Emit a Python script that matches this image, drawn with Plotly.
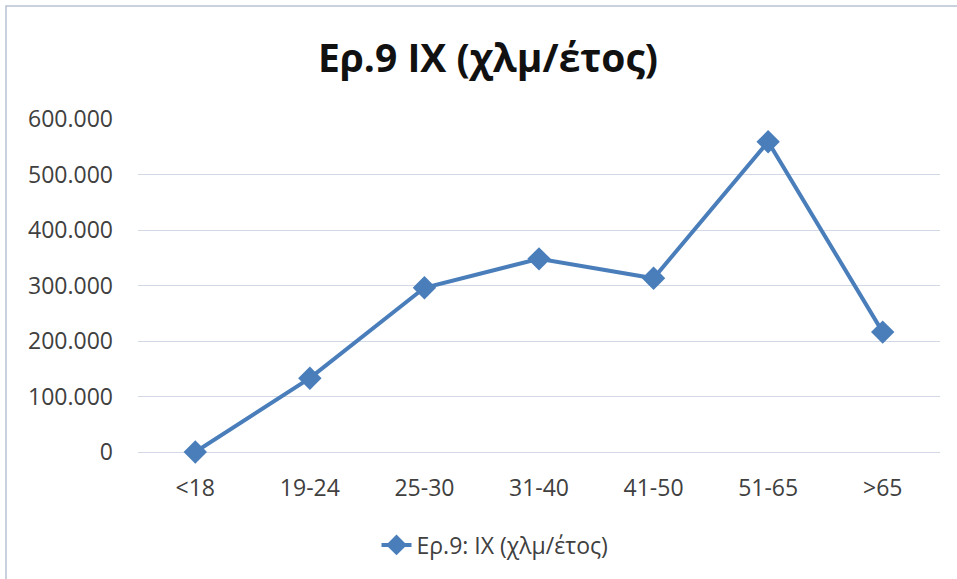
import plotly.graph_objects as go

# Age groups and annual car kilometres
age_groups = ["<18", "19-24", "25-30", "31-40", "41-50", "51-65", ">65"]
km_per_year = [0, 133000, 296000, 348000, 313000, 559000, 216000]
y_ticks = [0, 100000, 200000, 300000, 400000, 500000, 600000]

series_name = "Ερ.9: ΙΧ (χλμ/έτος)"
title_text = "Ερ.9 ΙΧ (χλμ/έτος)"

W, H = 957, 579
L, R, T, B = 138, 17, 119, 127
plot_w = W - L - R
plot_h = H - T - B

def px_x(p):
    return (p - L) / plot_w

def px_y(p):
    return (H - B - p) / plot_h

line_color = "#4A7EBB"
text_color = "#404040"
grid_color = "#D3D8E6"
font_family = "Open Sans, DejaVu Sans, sans-serif"

fig = go.Figure()
fig.add_trace(go.Scatter(
    x=age_groups,
    y=km_per_year,
    mode="lines+markers",
    name=series_name,
    line=dict(color=line_color, width=4),
    marker=dict(symbol="diamond", size=18, color=line_color),
    cliponaxis=False,
))

fig.update_layout(
    width=W,
    height=H,
    margin=dict(l=L, r=R, t=T, b=B),
    paper_bgcolor="white",
    plot_bgcolor="white",
    separators=",.",
    font=dict(family=font_family, color=text_color, size=23),
    title=dict(
        text=title_text,
        x=px_x(488), xanchor="center", xref="paper",
        y=1 - 58 / H, yanchor="middle", yref="container",
        font=dict(family=font_family, size=39, color="#111111", weight="bold"),
    ),
    showlegend=True,
    legend=dict(
        orientation="h",
        x=px_x(495), xanchor="center",
        y=px_y(545), yanchor="middle",
        font=dict(size=23, color=text_color),
        bgcolor="rgba(0,0,0,0)",
    ),
    xaxis=dict(
        type="category",
        range=[-0.5, len(age_groups) - 0.5],
        showgrid=False,
        showline=False,
        zeroline=False,
        ticks="",
        ticklabelstandoff=20,
        tickfont=dict(size=23, color=text_color),
    ),
    yaxis=dict(
        range=[0, 600000],
        tickvals=y_ticks,
        tickformat=",d",
        showgrid=True,
        gridcolor=grid_color,
        gridwidth=1,
        zeroline=True,
        zerolinecolor=grid_color,
        zerolinewidth=1,
        showline=False,
        ticks="",
        ticklabelstandoff=24,
        tickfont=dict(size=23, color=text_color),
    ),
    shapes=[
        dict(
            type="rect", xref="paper", yref="paper",
            x0=px_x(6), x1=px_x(W + 20),
            y0=px_y(H + 20), y1=px_y(6),
            line=dict(color="#B8C2D4", width=1.5),
            fillcolor="rgba(0,0,0,0)",
            layer="below",
        )
    ],
)

fig.write_html("out.html")
